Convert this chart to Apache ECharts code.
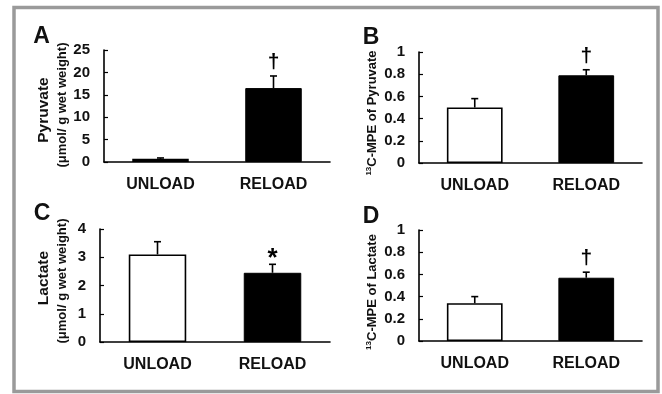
<!DOCTYPE html>
<html>
<head>
<meta charset="utf-8">
<script src="https://cdn.jsdelivr.net/npm/echarts@6/dist/echarts.min.js"></script>
<style>
html,body{margin:0;padding:0;background:#fff;}
#c{width:662px;height:394px;}
</style>
</head>
<body>
<div id="c"></div>
<script>
// ---- data ----
const categories = ['UNLOAD', 'RELOAD'];
const pyruvateMean = [0.7, 16.5];
const pyruvateSem = [0.2, 2.7];
const pyruvateMarks = ['', '†'];
const mpePyruvateMean = [0.50, 0.79];
const mpePyruvateSem = [0.08, 0.05];
const mpePyruvateMarks = ['', '†'];
const lactateMean = [3.1, 2.45];
const lactateSem = [0.45, 0.30];
const lactateMarks = ['', '*'];
const mpeLactateMean = [0.34, 0.57];
const mpeLactateSem = [0.06, 0.05];
const mpeLactateMarks = ['', '†'];
const axisMax = [25, 1, 4, 1];
const axisInterval = [5, 0.2, 1, 0.2];
const panelLetters = ['A', 'B', 'C', 'D'];

const FONT = "'Liberation Sans', Arial, sans-serif";
const chart = echarts.init(document.getElementById('c'));

const panels = [
  {mean: pyruvateMean, sem: pyruvateSem, marks: pyruvateMarks},
  {mean: mpePyruvateMean, sem: mpePyruvateSem, marks: mpePyruvateMarks},
  {mean: lactateMean, sem: lactateSem, marks: lactateMarks},
  {mean: mpeLactateMean, sem: mpeLactateSem, marks: mpeLactateMarks}
];
const grids = [
  {left: 104, top: 50, width: 226, height: 112},
  {left: 419, top: 52, width: 223, height: 111},
  {left: 100, top: 229, width: 230, height: 113},
  {left: 419, top: 230, width: 223, height: 111}
];

const xAxes = [], yAxes = [], series = [];
panels.forEach((p, i) => {
  xAxes.push({
    type: 'category', gridIndex: i, data: categories,
    axisLine: {lineStyle: {color: '#000', width: 1.6}},
    axisTick: {show: false},
    axisLabel: {color: '#111', fontFamily: FONT, fontWeight: 'bold', fontSize: 16, margin: 15}
  });
  yAxes.push({
    type: 'value', gridIndex: i, min: 0, max: axisMax[i], interval: axisInterval[i],
    axisLine: {show: true, lineStyle: {color: '#000', width: 1.6}},
    axisTick: {show: true, inside: true, length: 4, lineStyle: {color: '#000', width: 1.2}},
    splitLine: {show: false},
    axisLabel: {color: '#111', fontFamily: FONT, fontWeight: 'bold', fontSize: 15, margin: 14}
  });
  series.push({
    type: 'bar', xAxisIndex: i, yAxisIndex: i, barWidth: '50%',
    data: p.mean.map((v, k) => ({
      value: v,
      itemStyle: k === 0 ? {color: '#fff', borderColor: '#000', borderWidth: 1.6} : {color: '#000', borderColor: '#000', borderWidth: 1}
    })),
    silent: true
  });
  series.push({
    type: 'custom', xAxisIndex: i, yAxisIndex: i, z: 5, silent: true,
    data: p.mean.map((v, k) => [k, v, v + p.sem[k]]),
    renderItem: function (params, api) {
      const base = api.coord([api.value(0), api.value(1)]);
      const top = api.coord([api.value(0), api.value(2)]);
      const mark = p.marks[params.dataIndex];
      const children = [
        {type: 'line', shape: {x1: base[0], y1: base[1], x2: top[0], y2: top[1]}, style: {stroke: '#000', lineWidth: 1.6}},
        {type: 'line', shape: {x1: top[0] - 3.5, y1: top[1], x2: top[0] + 3.5, y2: top[1]}, style: {stroke: '#000', lineWidth: 1.6}}
      ];
      if (mark) {
        const isStar = mark === '*';
        children.push({
          type: 'text',
          x: top[0], y: top[1] + (isStar ? 8 : -3),
          style: {text: mark, fill: '#000', font: 'bold ' + (isStar ? 26 : 21) + 'px ' + FONT, align: 'center', verticalAlign: 'bottom'}
        });
      }
      return {type: 'group', children: children};
    }
  });
});

function vText(x, y, text, size, rich) {
  const o = {
    type: 'text', x: x, y: y, rotation: Math.PI / 2, z: 10,
    style: {text: text, fill: '#111', font: 'bold ' + size + 'px ' + FONT, align: 'center', verticalAlign: 'middle'}
  };
  if (rich) o.style.rich = rich;
  return o;
}
const supRich = {
  sup: {fontSize: 8, fontWeight: 'bold', fontFamily: FONT, fill: '#111', verticalAlign: 'top', lineHeight: 14, padding: [0, 0, 6, 0]},
  n: {fontSize: 13, fontWeight: 'bold', fontFamily: FONT, fill: '#111', lineHeight: 14}
};

const graphic = [
  {type: 'rect', shape: {x: 14, y: 7.5, width: 644, height: 384}, style: {fill: 'none', stroke: '#9a9a9a', lineWidth: 3.5}, z: 1},
  {type: 'text', x: 41.5, y: 37, style: {text: panelLetters[0], fill: '#111', font: 'bold 23px ' + FONT, align: 'center', verticalAlign: 'middle'}},
  {type: 'text', x: 371, y: 38, style: {text: panelLetters[1], fill: '#111', font: 'bold 23px ' + FONT, align: 'center', verticalAlign: 'middle'}},
  {type: 'text', x: 42, y: 214, style: {text: panelLetters[2], fill: '#111', font: 'bold 23px ' + FONT, align: 'center', verticalAlign: 'middle'}},
  {type: 'text', x: 371, y: 217, style: {text: panelLetters[3], fill: '#111', font: 'bold 23px ' + FONT, align: 'center', verticalAlign: 'middle'}},
  vText(44, 110, 'Pyruvate', 15.5),
  vText(62, 105, '(μmol/ g wet weight)', 13),
  vText(44, 278, 'Lactate', 15.5),
  vText(62, 281, '(μmol/ g wet weight)', 13),
  vText(372, 113, '{sup|13}{n|C-MPE of Pyruvate}', 13, supRich),
  vText(372, 292, '{sup|13}{n|C-MPE of Lactate}', 13, supRich)
];

chart.setOption({
  animation: false,
  backgroundColor: '#fff',
  grid: grids.map(g => Object.assign({containLabel: false}, g)),
  xAxis: xAxes,
  yAxis: yAxes,
  series: series,
  graphic: graphic
});
</script>
</body>
</html>
